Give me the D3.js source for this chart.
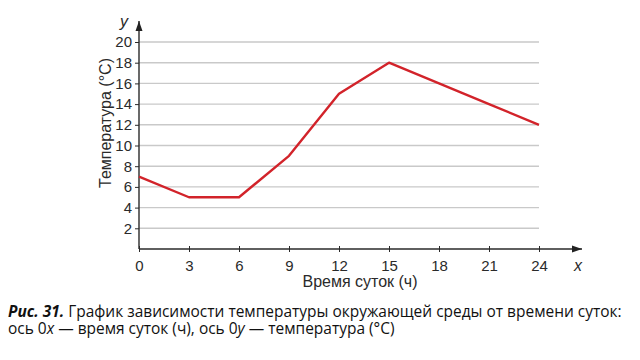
<!DOCTYPE html>
<html><head><meta charset="utf-8">
<script src="https://cdn.jsdelivr.net/npm/d3@7"></script>
<style>body{margin:0;background:#fff}svg{display:block}</style>
</head><body>
<svg id="c" width="640" height="360"></svg>
<script>
const hours = [0, 3, 6, 9, 12, 15, 18, 21, 24];
const temps = [7, 5, 5, 9, 15, 18, 16, 14, 12];
const yTicks = [2, 4, 6, 8, 10, 12, 14, 16, 18, 20];
const xTicks = [0, 3, 6, 9, 12, 15, 18, 21, 24];
const xTitle = "Время суток (ч)";
const yTitle = "Температура (°C)";
const captionLine1 = [["Рис. 31.", "bi"], [" График зависимости температуры окружающей среды от времени суток:", "n"]];
const captionLine2 = [["ось 0", "n"], ["x", "i"], [" — время суток (ч), ось 0", "n"], ["y", "i"], [" — температура (°C)", "n"]];

const svg = d3.select("#c");
const x = d3.scaleLinear().domain([0, 24]).range([139, 539]);
const y = d3.scaleLinear().domain([0, 20]).range([249, 42]);
const font = "'Liberation Sans', Arial, sans-serif";
const ink = "#2a2a2a";

// grid
svg.append("g").selectAll("line").data(yTicks).join("line")
  .attr("x1", x(0)).attr("x2", x(24))
  .attr("y1", d => y(d)).attr("y2", d => y(d))
  .attr("stroke", "#c9c9c9").attr("stroke-width", 1.4);

// x axis
const xa = svg.append("g").attr("transform", `translate(0,${y(0)})`)
  .call(d3.axisBottom(x).tickValues(xTicks).tickSize(3).tickPadding(8));
xa.select(".domain").remove();
xa.selectAll(".tick line").attr("y1", -3).attr("y2", 3).attr("stroke", ink);
xa.selectAll("text").attr("font-family", font).attr("font-size", 15).attr("fill", ink);

// y axis
const ya = svg.append("g").attr("transform", `translate(${x(0)},0)`)
  .call(d3.axisLeft(y).tickValues(yTicks).tickSize(4).tickPadding(3));
ya.select(".domain").remove();
ya.selectAll(".tick line").attr("x1", 0).attr("x2", -4).attr("stroke", ink);
ya.selectAll("text").attr("font-family", font).attr("font-size", 15).attr("fill", ink);

// axis lines with arrows
svg.append("defs").append("marker").attr("id", "arr")
  .attr("viewBox", "0 0 10 10").attr("refX", 10).attr("refY", 5)
  .attr("markerWidth", 10).attr("markerHeight", 10).attr("markerUnits", "userSpaceOnUse")
  .attr("orient", "auto")
  .append("path").attr("d", "M0,1.5 L10,5 L0,8.5 Z").attr("fill", "#222");
svg.append("line").attr("x1", x(0)).attr("x2", 582).attr("y1", y(0)).attr("y2", y(0))
  .attr("stroke", ink).attr("stroke-width", 1.4).attr("marker-end", "url(#arr)");
svg.append("line").attr("x1", x(0)).attr("x2", x(0)).attr("y1", y(0)).attr("y2", 21)
  .attr("stroke", ink).attr("stroke-width", 1.4).attr("marker-end", "url(#arr)");

// axis letters
svg.append("text").attr("x", 578).attr("y", 271).attr("font-family", font)
  .attr("font-style", "italic").attr("font-size", 16).attr("fill", ink).attr("text-anchor", "middle").text("x");
svg.append("text").attr("x", 124).attr("y", 27).attr("font-family", font)
  .attr("font-style", "italic").attr("font-size", 16).attr("fill", ink).attr("text-anchor", "middle").text("y");

// titles
svg.append("text").attr("x", 360).attr("y", 287).attr("font-family", font)
  .attr("font-size", 16).attr("fill", ink).attr("text-anchor", "middle").text(xTitle);
svg.append("text").attr("transform", "translate(111,123) rotate(-90)").attr("font-family", font)
  .attr("font-size", 16).attr("fill", ink).attr("text-anchor", "middle").text(yTitle);

// line
const data = hours.map((h, i) => ({h, t: temps[i]}));
svg.append("path").datum(data)
  .attr("d", d3.line().x(d => x(d.h)).y(d => y(d.t)))
  .attr("fill", "none").attr("stroke", "#d2232a").attr("stroke-width", 2.4)
  .attr("stroke-linejoin", "round");

// caption as separate text pieces
const cf = "'Open Sans', 'Noto Sans', sans-serif";
function drawLine(parts, yy, size) {
  const g = svg.append("g").attr("class", "cap");
  let cx = 8;
  parts.forEach(([s, st]) => {
    const t = g.append("text").attr("x", cx).attr("y", yy).attr("font-family", cf)
      .attr("font-size", size).attr("fill", "#111").attr("xml:space", "preserve")
      .style("white-space", "pre").text(s);
    if (st === "bi") t.attr("font-weight", "bold").attr("font-style", "italic");
    if (st === "i") t.attr("font-style", "italic");
    cx += t.node().getComputedTextLength();
  });
  return cx - 8;
}
// measure first at base size, then redraw at fitted size
const base = 13.5;
const w = drawLine(captionLine1, -100, base);
svg.selectAll(".cap").remove();
const size = base * 614 / w;
drawLine(captionLine1, 317, size);
drawLine(captionLine2, 334, size);
</script>
</body></html>
